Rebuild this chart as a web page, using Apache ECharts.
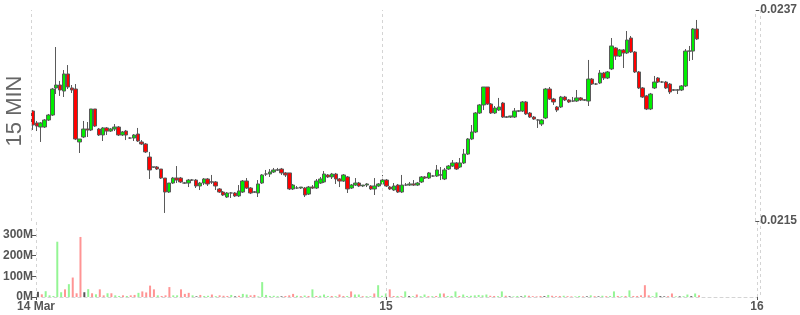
<!DOCTYPE html>
<html><head><meta charset="utf-8">
<script src="https://cdn.jsdelivr.net/npm/echarts@6/dist/echarts.min.js"></script>
<style>html,body{margin:0;padding:0;background:#fff}#c{width:800px;height:315px}</style>
</head><body><div id="c"></div><script>
// 15-minute candles starting 14 Mar 01:30 (UTC)
const startTime = Date.UTC(2023, 2, 14, 1, 30);
const stepMinutes = 15;
const axisStart = Date.UTC(2023, 2, 14, 1, 22, 30);
const dayTicks = [Date.UTC(2023, 2, 15), Date.UTC(2023, 2, 16)];
const priceLabels = [0.0215, 0.0237];
const volumeLabels = [0, 100, 200, 300];
const titleText = '15 MIN';

const opens = [0.022647,0.022522,0.022480,0.022480,0.022553,0.022605,0.022887,0.022918,0.022855,0.023033,
0.022887,0.022876,0.022324,0.022376,0.022459,0.022449,0.022668,0.022459,0.022397,0.022470,
0.022438,0.022459,0.022480,0.022397,0.022438,0.022365,0.022365,0.022407,0.022324,0.022303,
0.022167,0.022063,0.022063,0.022042,0.021948,0.021802,0.021896,0.021948,0.021948,0.021896,
0.021896,0.021927,0.021927,0.021865,0.021896,0.021938,0.021907,0.021907,0.021834,0.021802,
0.021750,0.021792,0.021792,0.021761,0.021802,0.021917,0.021844,0.021802,0.021792,0.021896,
0.021990,0.021990,0.022011,0.022032,0.022042,0.022001,0.022001,0.021834,0.021844,0.021844,
0.021844,0.021781,0.021854,0.021844,0.021896,0.021907,0.021980,0.021959,0.021990,0.021938,
0.021917,0.021959,0.021844,0.021875,0.021896,0.021865,0.021875,0.021865,0.021834,0.021865,
0.021886,0.021927,0.021854,0.021823,0.021875,0.021802,0.021875,0.021875,0.021886,0.021875,
0.021907,0.021959,0.021948,0.021969,0.021969,0.021980,0.021938,0.022042,0.022073,0.022105,
0.022063,0.022105,0.022198,0.022355,0.022428,0.022626,0.022710,0.022897,0.022720,0.022626,
0.022657,0.022730,0.022584,0.022584,0.022584,0.022647,0.022647,0.022741,0.022626,0.022584,
0.022553,0.022511,0.022574,0.022876,0.022772,0.022689,0.022689,0.022793,0.022762,0.022751,
0.022751,0.022783,0.022762,0.022751,0.022980,0.022928,0.022939,0.023043,0.022991,0.023085,
0.023304,0.023220,0.023283,0.023252,0.023408,0.023262,0.023054,0.022887,0.022804,0.022668,
0.022887,0.022991,0.022949,0.022949,0.022928,0.022866,0.022866,0.022866,0.022908,0.023272,
0.023272,0.023502];

const closes = [0.022501,0.022490,0.022522,0.022553,0.022605,0.022876,0.022918,0.022866,0.023033,0.022897,
0.022866,0.022355,0.022355,0.022459,0.022449,0.022668,0.022490,0.022397,0.022470,0.022438,
0.022459,0.022480,0.022397,0.022428,0.022397,0.022365,0.022397,0.022334,0.022303,0.022220,
0.022032,0.022063,0.022042,0.021948,0.021802,0.021896,0.021948,0.021927,0.021907,0.021896,
0.021927,0.021927,0.021865,0.021896,0.021938,0.021886,0.021907,0.021865,0.021802,0.021771,
0.021792,0.021792,0.021761,0.021813,0.021917,0.021844,0.021792,0.021802,0.021886,0.021980,
0.021990,0.022011,0.022032,0.022032,0.022001,0.021980,0.021834,0.021875,0.021844,0.021854,
0.021771,0.021854,0.021844,0.021917,0.021938,0.021990,0.021959,0.021990,0.021938,0.021917,
0.021980,0.021834,0.021875,0.021896,0.021865,0.021875,0.021886,0.021834,0.021865,0.021886,
0.021927,0.021865,0.021834,0.021865,0.021802,0.021875,0.021875,0.021886,0.021875,0.021896,
0.021959,0.021948,0.022001,0.021969,0.022032,0.021980,0.022032,0.022073,0.022105,0.022042,
0.022105,0.022198,0.022355,0.022428,0.022626,0.022710,0.022897,0.022720,0.022626,0.022678,
0.022689,0.022584,0.022584,0.022595,0.022647,0.022647,0.022741,0.022616,0.022584,0.022563,
0.022553,0.022553,0.022876,0.022772,0.022741,0.022657,0.022793,0.022762,0.022741,0.022751,
0.022783,0.022762,0.022762,0.022980,0.022928,0.022928,0.023043,0.022991,0.023054,0.023325,
0.023220,0.023283,0.023252,0.023387,0.023262,0.023054,0.022887,0.022793,0.022668,0.022824,
0.022949,0.022949,0.022949,0.022887,0.022845,0.022866,0.022866,0.022908,0.023272,0.023272,
0.023502,0.023398];

const highs = [0.022657,0.022543,0.022532,0.022563,0.022616,0.022887,0.023314,0.022960,0.023074,0.023126,
0.022918,0.022928,0.022355,0.022543,0.022532,0.022668,0.022668,0.022470,0.022480,0.022480,
0.022470,0.022511,0.022490,0.022438,0.022449,0.022376,0.022407,0.022470,0.022344,0.022313,
0.022220,0.022063,0.022073,0.022042,0.021948,0.021896,0.021959,0.022073,0.021959,0.021907,
0.021938,0.021938,0.021938,0.021907,0.021948,0.021948,0.021980,0.021917,0.021844,0.021813,
0.021802,0.021802,0.021802,0.021875,0.021927,0.021948,0.021854,0.021813,0.021927,0.021990,
0.022032,0.022042,0.022053,0.022053,0.022053,0.022011,0.022001,0.021886,0.021865,0.021854,
0.021854,0.021865,0.021875,0.021938,0.021959,0.022021,0.021990,0.022001,0.022001,0.021948,
0.021990,0.021969,0.021886,0.021948,0.021907,0.021875,0.021896,0.021875,0.021948,0.021896,
0.021980,0.021938,0.021865,0.021896,0.021886,0.021980,0.021896,0.021907,0.021927,0.021907,
0.021969,0.021969,0.022011,0.021980,0.022084,0.022063,0.022053,0.022084,0.022136,0.022115,
0.022157,0.022251,0.022365,0.022501,0.022636,0.022720,0.022897,0.022897,0.022730,0.022699,
0.022783,0.022741,0.022595,0.022595,0.022678,0.022657,0.022751,0.022751,0.022636,0.022595,
0.022563,0.022563,0.022887,0.022897,0.022783,0.022699,0.022804,0.022804,0.022772,0.022793,
0.022866,0.022793,0.022772,0.023179,0.022991,0.022939,0.023074,0.023054,0.023064,0.023408,
0.023314,0.023293,0.023293,0.023481,0.023429,0.023272,0.023064,0.022897,0.022814,0.022835,
0.023012,0.023001,0.022960,0.022960,0.022939,0.022876,0.022876,0.022918,0.023293,0.023325,
0.023512,0.023596];

const lows = [0.022449,0.022438,0.022324,0.022470,0.022543,0.022595,0.022824,0.022804,0.022793,0.022876,
0.022835,0.022344,0.022209,0.022365,0.022376,0.022438,0.022480,0.022386,0.022334,0.022397,
0.022428,0.022438,0.022386,0.022386,0.022344,0.022355,0.022334,0.022324,0.022292,0.022209,
0.021938,0.022053,0.022032,0.021938,0.021584,0.021792,0.021886,0.021896,0.021896,0.021886,
0.021854,0.021917,0.021844,0.021823,0.021875,0.021865,0.021886,0.021823,0.021792,0.021761,
0.021740,0.021740,0.021750,0.021750,0.021792,0.021834,0.021781,0.021792,0.021750,0.021886,
0.021969,0.021959,0.022001,0.022021,0.021980,0.021959,0.021823,0.021823,0.021834,0.021834,
0.021750,0.021771,0.021834,0.021834,0.021886,0.021896,0.021948,0.021938,0.021886,0.021854,
0.021907,0.021792,0.021834,0.021865,0.021854,0.021854,0.021854,0.021823,0.021771,0.021854,
0.021875,0.021854,0.021823,0.021813,0.021792,0.021792,0.021865,0.021865,0.021865,0.021865,
0.021896,0.021938,0.021938,0.021959,0.021959,0.021927,0.021927,0.022032,0.022063,0.022032,
0.022053,0.022094,0.022188,0.022344,0.022417,0.022616,0.022657,0.022710,0.022616,0.022616,
0.022647,0.022574,0.022574,0.022574,0.022574,0.022636,0.022636,0.022605,0.022574,0.022553,
0.022470,0.022490,0.022563,0.022762,0.022710,0.022636,0.022678,0.022751,0.022730,0.022741,
0.022741,0.022751,0.022751,0.022699,0.022918,0.022918,0.022928,0.022970,0.022980,0.023074,
0.023179,0.023210,0.023095,0.023241,0.023252,0.023043,0.022876,0.022783,0.022657,0.022657,
0.022876,0.022939,0.022939,0.022876,0.022824,0.022855,0.022824,0.022855,0.022897,0.023168,
0.023179,0.023387];

const volumeMillions = [25,13,28,8,5,267,23,37,62,94,
18,290,23,38,18,13,37,8,18,18,
8,5,8,5,8,10,20,27,22,55,
37,8,5,8,48,8,8,37,15,20,
8,3,10,5,6,12,4,8,6,5,
10,3,6,15,12,8,10,3,72,10,
5,6,4,3,5,8,15,6,4,7,
5,37,5,6,12,5,5,4,12,5,
5,27,12,12,4,4,4,17,57,6,
17,37,5,5,4,27,4,4,12,4,
12,4,4,5,17,17,5,5,27,5,
12,5,6,8,10,8,12,6,5,4,
27,6,3,3,5,3,8,6,4,3,
5,4,10,6,4,5,6,4,3,3,
5,3,3,8,4,3,6,4,5,27,
5,4,5,32,5,5,8,57,8,4,
22,4,3,4,17,3,3,4,12,4,
17,8];

const times = opens.map((_, i) => startTime + i * stepMinutes * 60000);
const candleData = times.map((t, i) => [t, opens[i], closes[i], lows[i], highs[i]]);
const volData = times.map((t, i) => {
  let c = '#555555';
  if (i > 0 && closes[i] > closes[i - 1]) c = 'rgba(0,230,0,0.42)';
  else if (i > 0 && closes[i] < closes[i - 1]) c = 'rgba(255,0,0,0.42)';
  return { value: [t, volumeMillions[i]], itemStyle: { color: c } };
});
const axisEnd = dayTicks[1];
const xTickValues = [axisStart].concat(dayTicks);
const dash = { color: '#d4d4d4', type: [3, 3], width: 1 };
const vLines = xTickValues.map(v => ({ xAxis: v }));
const labelStyle = { color: '#555', fontWeight: 'bold', fontSize: 12, fontFamily: 'Liberation Sans, Arial, sans-serif' };

const chart = echarts.init(document.getElementById('c'), null, { renderer: 'canvas' });
chart.setOption({
  animation: false,
  grid: [
    { left: 31, right: 43, top: 10, height: 211 },
    { left: 31, right: 43, top: 221, height: 76 }
  ],
  xAxis: [
    { type: 'value', gridIndex: 0, min: axisStart, max: axisEnd, scale: true,
      axisLine: { show: false }, axisTick: { show: false }, axisLabel: { show: false }, splitLine: { show: false } },
    { type: 'value', gridIndex: 1, min: axisStart, max: axisEnd, scale: true,
      axisLine: { show: true, onZero: false, lineStyle: dash },
      axisTick: { show: true, customValues: xTickValues, length: 3, lineStyle: { color: '#555' } },
      axisLabel: Object.assign({ customValues: xTickValues, margin: 4,
        formatter: v => v === axisStart ? '14 Mar' : String(new Date(v).getUTCDate()) }, labelStyle),
      splitLine: { show: false } }
  ],
  yAxis: [
    { type: 'value', gridIndex: 0, position: 'right', min: priceLabels[0], max: priceLabels[1],
      axisLine: { show: false }, splitLine: { show: false },
      axisTick: { show: true, customValues: priceLabels, length: 4, lineStyle: { color: '#555' } },
      axisLabel: Object.assign({ customValues: priceLabels, margin: 5, formatter: v => v.toFixed(4) }, labelStyle) },
    { type: 'value', gridIndex: 1, position: 'left', min: 0, max: 367,
      axisLine: { show: false }, splitLine: { show: false },
      axisTick: { show: true, customValues: volumeLabels, length: 4, lineStyle: { color: '#555' } },
      axisLabel: Object.assign({ customValues: volumeLabels, margin: 3, formatter: v => v + 'M' }, labelStyle) }
  ],
  graphic: [
    { type: 'text', x: 15, y: 111, rotation: Math.PI / 2,
      style: { text: titleText, fontSize: 22, fill: '#666', align: 'center', verticalAlign: 'middle', fontFamily: 'Liberation Sans, Arial, sans-serif' } },
    { type: 'line', shape: { x1: 760.5, y1: 10, x2: 760.5, y2: 297 }, style: { stroke: '#d4d4d4', lineDash: [3, 3], lineWidth: 1 }, silent: true }
  ],
  series: [
    { type: 'candlestick', xAxisIndex: 0, yAxisIndex: 0, data: candleData, encode: { x: 0, y: [1, 2, 3, 4] },
      barWidth: 4,
      itemStyle: { color: '#00ee00', color0: '#ff0000', borderColor: '#5a5a5a', borderColor0: '#5a5a5a', borderColorDoji: '#5a5a5a', borderWidth: 1 },
      markLine: { silent: true, symbol: 'none', label: { show: false }, lineStyle: dash,
        data: vLines.concat(priceLabels.map(v => ({ yAxis: v }))) } },
    { type: 'bar', xAxisIndex: 1, yAxisIndex: 1, data: volData, barWidth: 2,
      markLine: { silent: true, symbol: 'none', label: { show: false }, lineStyle: dash, data: vLines } }
  ]
});
</script></body></html>
